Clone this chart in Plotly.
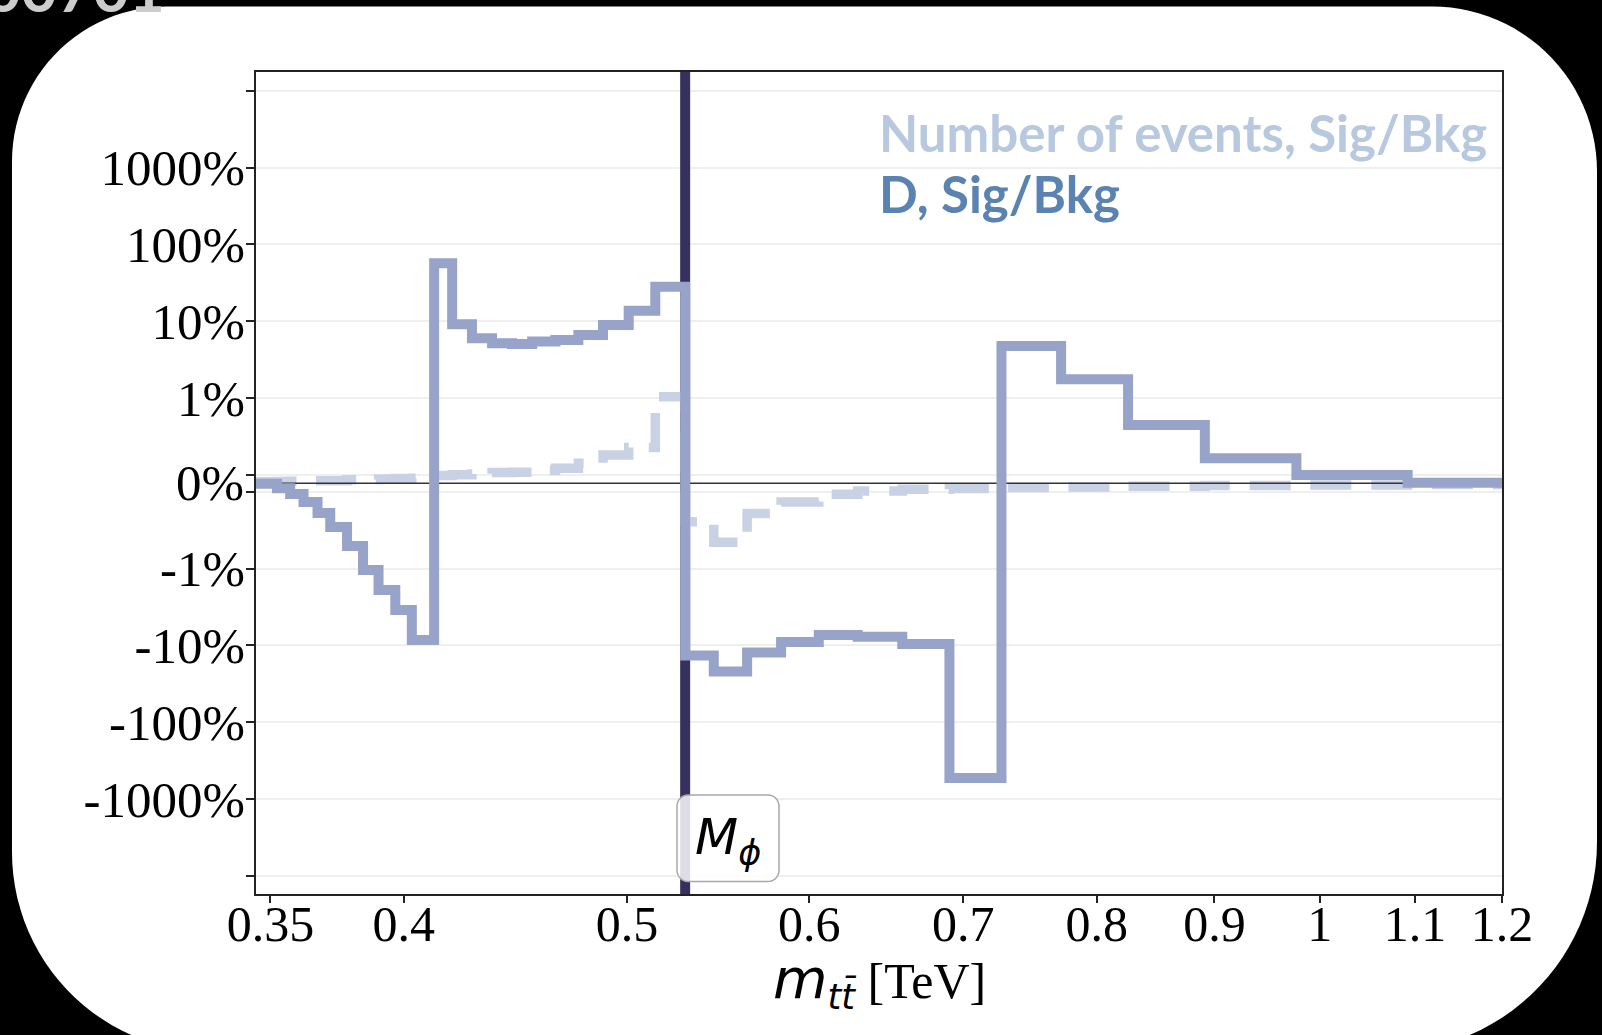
import numpy as np
import plotly.graph_objects as go

# ---------------- data ----------------
bin_edges_tev = [0.345, 0.3523, 0.3570, 0.3618, 0.3669, 0.3716, 0.3779, 0.3840, 0.3900,
                 0.3966, 0.4032, 0.4123, 0.4198, 0.4282, 0.4369, 0.4457, 0.4548, 0.4655,
                 0.4763, 0.4882, 0.5009, 0.5144, 0.5300, 0.5454, 0.5639, 0.5834, 0.6058,
                 0.6299, 0.6586, 0.6904, 0.7273, 0.7720, 0.8255, 0.8914, 0.9769, 1.0919, 1.2]

d_sig_bkg_pct = [-0.006, -0.059, -0.125, -0.219, -0.348, -0.512, -0.735, -1.04, -1.90, -3.46,
                 -8.5, 56.7, 9.1, 5.98, 5.15, 5.05, 5.41, 5.69, 6.61, 8.91, 13.7, 28.1,
                 -13.5, -21.8, -12.4, -9.06, -7.31, -7.73, -9.58, -531.0,
                 4.75, 1.75, 0.683, 0.293, 0.097, 0.005]

nevents_sig_bkg_pct = [0.019, 0.02, 0.025, 0.03, 0.03, 0.03, 0.04, 0.045, 0.05, 0.055,
                       0.059, 0.09, 0.10, 0.11, 0.125, 0.13, 0.15, 0.176, 0.234, 0.33, 0.42, 1.04,
                       -0.45, -0.69, -0.355, -0.22, -0.13, -0.09, -0.07, -0.062,
                       -0.05, -0.045, -0.035, -0.025, -0.02, -0.015]

m_phi_tev = 0.53

x_tick_vals = [0.35, 0.4, 0.5, 0.6, 0.7, 0.8, 0.9, 1.0, 1.1, 1.2]
x_tick_text = ["0.35", "0.4", "0.5", "0.6", "0.7", "0.8", "0.9", "1", "1.1", "1.2"]
y_tick_pct = [1e4, 1000, 100, 10, 1, 0.1, -0.1, -1, -10, -100, -1000, -1e4]
y_tick_text = ["", "1000%", "100%", "10%", "1%", "", "", "-1%", "-10%", "-100%", "-1000%", ""]

# ---------------- scale helpers ----------------
LINSCALE = 1.0 / (1.0 - 0.1)  # symlog, linthresh = 1 %


def symlog(v):
    v = np.asarray(v, dtype=float)
    a = np.abs(v)
    out = np.where(a <= 1, a * LINSCALE, LINSCALE + np.log10(np.maximum(a, 1)))
    return np.sign(v) * out


W, H = 1602, 1035
ML, MR, MT, MB = 256, 100, 72, 141
PW, PH = W - ML - MR, H - MT - MB


def px2x(px):
    return (px - ML) / PW


def py2y(py):
    return (H - MB - py) / PH


def rounded_path(x0, y0, x1, y1, radii, n=28):
    tl, tr, br, bl = radii
    corners = [(x0 + tl, y0 + tl, tl, 180, 270), (x1 - tr, y0 + tr, tr, 270, 360),
               (x1 - br, y1 - br, br, 0, 90), (x0 + bl, y1 - bl, bl, 90, 180)]
    pts = []
    for cx, cy, r, a0, a1 in corners:
        for t in np.linspace(a0, a1, n):
            a = np.radians(t)
            pts.append((cx + r * np.cos(a), cy + r * np.sin(a)))
    return "M " + " L ".join(f"{px2x(px):.5f},{py2y(py):.5f}" for px, py in pts) + " Z"


def step_xy(edges, vals):
    xs = list(edges)
    ys = list(symlog(vals)) + [float(symlog([vals[-1]])[0])]
    return xs, ys


YR = [-5.348, 5.355]

fig = go.Figure()

# M_phi vertical line
fig.add_trace(go.Scatter(x=[m_phi_tev, m_phi_tev], y=YR, mode="lines",
                         line=dict(color="#36305e", width=10), showlegend=False, hoverinfo="skip"))

# Number of events (dashed)
xs, ys = step_xy(bin_edges_tev, nevents_sig_bkg_pct)
fig.add_trace(go.Scatter(x=xs, y=ys, mode="lines", line_shape="hv",
                         line=dict(color="#c9d1e4", width=9.5, dash="41px,20px"),
                         name="Number of events, Sig/Bkg", showlegend=False, hoverinfo="skip"))

# zero line
fig.add_trace(go.Scatter(x=[bin_edges_tev[0], bin_edges_tev[-1]], y=[0, 0], mode="lines",
                         line=dict(color="#333333", width=1.5), showlegend=False, hoverinfo="skip"))

# D (solid)
xs, ys = step_xy(bin_edges_tev, d_sig_bkg_pct)
fig.add_trace(go.Scatter(x=xs, y=ys, mode="lines", line_shape="hv",
                         line=dict(color="#97a3c8", width=10),
                         name="D, Sig/Bkg", showlegend=False, hoverinfo="skip"))

serif = "Liberation Serif, Times New Roman, serif"

fig.update_xaxes(type="log", range=[np.log10(bin_edges_tev[0]), np.log10(1.2)],
                 tickvals=x_tick_vals, ticktext=x_tick_text,
                 ticks="outside", ticklen=7, tickwidth=1.5, tickcolor="#222",
                 ticklabelstandoff=-22,
                 showline=True, linecolor="#222", linewidth=1.5, mirror=True,
                 showgrid=False, zeroline=False,
                 tickfont=dict(family=serif, size=50, color="black"))
fig.update_yaxes(range=YR, tickvals=list(symlog(y_tick_pct)), ticktext=y_tick_text,
                 ticks="outside", ticklen=8, tickwidth=1.5, tickcolor="#222",
                 ticklabelstandoff=-9,
                 showline=True, linecolor="#222", linewidth=1.5, mirror=True,
                 showgrid=True, gridcolor="#efefef", gridwidth=1.5, zeroline=False,
                 tickfont=dict(family=serif, size=51, color="black"))

shapes = [
    dict(type="path", xref="paper", yref="paper", layer="below",
         path=rounded_path(12, 6.5, 1597, 1052, (155, 165, 210, 200)),
         fillcolor="white", line=dict(width=0)),
    dict(type="path", xref="paper", yref="paper", layer="above",
         path=rounded_path(677, 795, 779, 881.5, (11, 11, 11, 11), n=8),
         fillcolor="rgba(255,255,255,0.84)", line=dict(color="#a8a8a8", width=1.5)),
]

annotations = [
    dict(text="00701", xref="paper", yref="paper", x=px2x(167), y=py2y(27),
         xanchor="right", yanchor="bottom", showarrow=False,
         font=dict(family="Lato", size=62, color="#cccccc", weight="bold")),
    dict(text="Number of events, Sig/Bkg", xref="paper", yref="paper",
         x=px2x(877), y=py2y(133), xanchor="left", yanchor="middle", showarrow=False,
         font=dict(family="Lato", size=51, color="#b7c8df", weight="bold")),
    dict(text="D, Sig/Bkg", xref="paper", yref="paper",
         x=px2x(877), y=py2y(193), xanchor="left", yanchor="middle", showarrow=False,
         font=dict(family="Lato", size=51, color="#5a83b2", weight="bold")),
    dict(text="0%", xref="paper", yref="paper", x=px2x(246), y=py2y(483.3),
         xanchor="right", yanchor="middle", showarrow=False,
         font=dict(family=serif, size=51, color="black")),
    dict(text="<i>M</i><sub><i>ϕ</i></sub>", xref="paper", yref="paper",
         x=px2x(728), y=py2y(840), xanchor="center", yanchor="middle", showarrow=False,
         font=dict(family="DejaVu Sans", size=50, color="black")),
    dict(text="<span style=\"font-family:'DejaVu Sans';font-size:56px\"><i>m</i></span>"
              "<sub><span style=\"font-family:'DejaVu Sans'\"><i>tt̄</i></span></sub> [TeV]",
         xref="paper", yref="paper", x=px2x(879), y=py2y(981),
         xanchor="center", yanchor="middle", showarrow=False,
         font=dict(family=serif, size=50, color="black")),
]

fig.update_layout(width=W, height=H, margin=dict(l=ML, r=MR, t=MT, b=MB, autoexpand=False),
                  paper_bgcolor="black", plot_bgcolor="white",
                  shapes=shapes, annotations=annotations, showlegend=False)

fig.write_html("out.html", config={"displayModeBar": False},
               post_script="document.body.style.margin='0';"
                           "document.body.style.background='black';"
                           "document.body.style.overflow='hidden';")
